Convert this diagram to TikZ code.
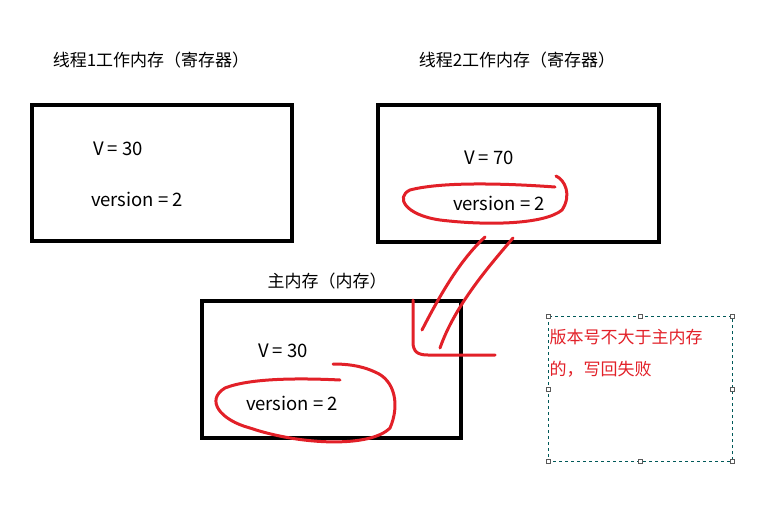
\documentclass[tikz,border=0pt]{standalone}
\usepackage{fontspec}
\setmainfont{Noto Sans CJK SC}
\definecolor{pred}{RGB}{226,32,40}
\begin{document}
\begin{tikzpicture}[x=1pt,y=-1pt,
  box/.style={draw,line width=4pt},
  lbl/.style={font=\fontsize{17}{19}\selectfont},
  val/.style={font=\fontsize{18.5}{20}\selectfont},
  pen/.style={draw=pred,line width=3pt,line cap=round,line join=round},
  handle/.style={draw=gray!70!black,fill=white,minimum size=4pt,inner sep=0pt,line width=0.6pt},
  note/.style={font=\fontsize{17}{19}\selectfont,text=pred,anchor=west}]
\useasboundingbox (0,0) rectangle (762,509);
\draw[box] (32,105) coordinate (b1a) rectangle (292,241) coordinate (b1b);
\draw[box] (378,105) coordinate (b2a) rectangle (659,242) coordinate (b2b);
\draw[box] (202,301) coordinate (b3a) rectangle (461,438) coordinate (b3b);
\node[lbl] (t1) at (151,60) {线程1工作内存（寄存器）};
\node[lbl] (t2) at (517,60) {线程2工作内存（寄存器）};
\node[lbl] (t3) at (327,281) {主内存（内存）};
\node[val] (v1) at (118,149) {V = 30};
\node[val] (r1) at (137,199) {version = 2};
\node[val] (v2) at (489,158) {V = 70};
\node[val] (r2) at (499,203) {version = 2};
\node[val] (v3) at (283,351) {V = 30};
\node[val] (r3) at (292,403) {version = 2};
\draw[pen] (555,187) .. controls (500,183) and (440,182) .. (410,190)
  .. controls (395,197) and (405,215) .. (440,220)
  .. controls (490,226) and (545,224) .. (562,210)
  .. controls (572,195) and (565,180) .. (556,176);
\draw[pen] (340,380) .. controls (300,378) and (250,378) .. (225,388)
  .. controls (205,400) and (220,420) .. (250,428)
  .. controls (300,445) and (370,448) .. (390,428)
  .. controls (400,405) and (395,380) .. (375,372)
  .. controls (360,365) and (345,364) .. (333,364);
\draw[pen] (485,237) .. controls (460,260) and (440,295) .. (422,330);
\draw[pen] (513,238) .. controls (490,265) and (455,305) .. (440,348);
\draw[pen] (413,300) -- (413,342) .. controls (413,352) and (418,355) .. (428,355) -- (495,355);
\draw[teal!70!black,dashed,line width=0.7pt] (548,316) coordinate (nA) rectangle (732,461) coordinate (nB);
\foreach \p in {(548,316),(640,316),(732,316),(548,389),(732,389),(548,461),(640,461),(732,461)}
  \node[handle] at \p {};
\node[note] (n1) at (546,337) {版本号不大于主内存};
\node[note] (n2) at (546,369) {的，写回失败};
\end{tikzpicture}
\end{document}
